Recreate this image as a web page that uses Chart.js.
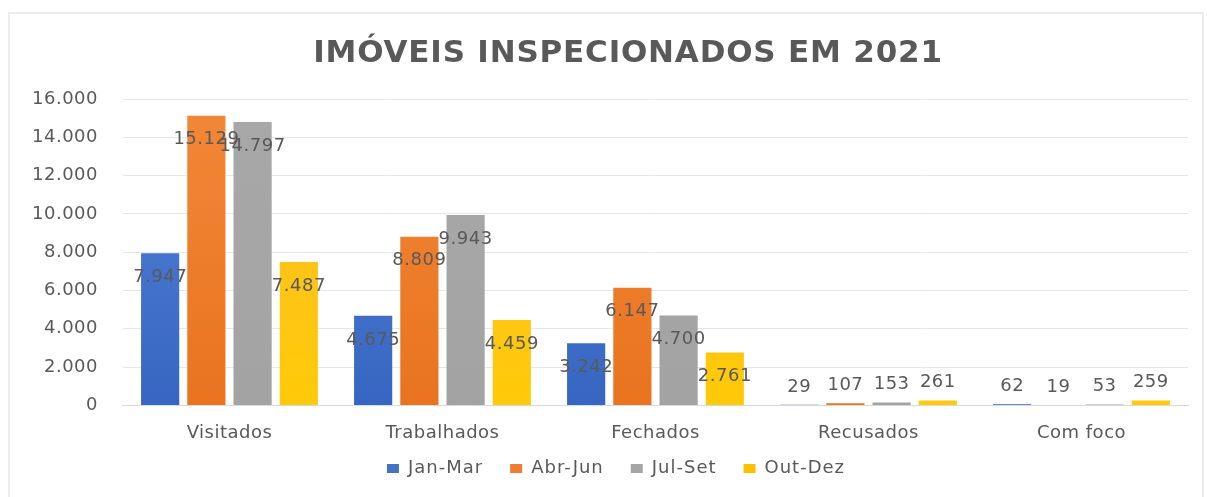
<!DOCTYPE html>
<html lang="pt">
<head>
    <meta charset="UTF-8">
    <title>Imóveis inspecionados em 2021</title>
    <style>
        html, body {
            margin: 0;
            padding: 0;
            background: #ffffff;
        }
        #wrap {
            position: relative;
            width: 1207px;
            height: 497px;
            overflow: hidden;
        }
        #frame {
            position: absolute;
            left: 8px;
            top: 12px;
            width: 1196px;
            height: 500px;
            border: 2px solid #ececec;
            box-sizing: border-box;
        }
        #grafico {
            position: absolute;
            left: 0;
            top: 0;
        }
    </style>
</head>
<body>
    <div id="wrap">
        <div id="frame"></div>
        <canvas id="grafico" width="1207" height="497"></canvas>
    </div>

    <script src="https://cdn.jsdelivr.net/npm/chart.js"></script>
    <script>
        // dados
        const categorias = ['Visitados', 'Trabalhados', 'Fechados', 'Recusados', 'Com foco'];
        const trimestres = ['Jan-Mar', 'Abr-Jun', 'Jul-Set', 'Out-Dez'];
        const janMar = [7947, 4675, 3242, 29, 62];
        const abrJun = [15129, 8809, 6147, 107, 19];
        const julSet = [14797, 9943, 4700, 153, 53];
        const outDez = [7487, 4459, 2761, 261, 259];
        const ticksY = [0, 2000, 4000, 6000, 8000, 10000, 12000, 14000, 16000];

        const cores = ['#4472C4', '#ED7D31', '#A5A5A5', '#FFC000'];
        const coresTopo = ['#5283d6', '#f28838', '#a8a8a8', '#fbbd2a'];
        const coresBase = ['#3766c2', '#e9731f', '#a3a3a3', '#ffca08'];
        const cinzaTexto = '#595959';
        const fonte = '"DejaVu Sans", sans-serif';

        function formatar(n) {
            return String(n).replace(/\B(?=(\d{3})+(?!\d))/g, '.');
        }

        function degrade(i) {
            return function (c) {
                const area = c.chart.chartArea;
                if (!area) return cores[i];
                const g = c.chart.ctx.createLinearGradient(0, area.top, 0, area.bottom);
                g.addColorStop(0, coresTopo[i]);
                g.addColorStop(1, coresBase[i]);
                return g;
            };
        }

        // letras um pouco mais afastadas, como no original
        const espaco = {
            id: 'espaco',
            beforeLayout(chart) { chart.ctx.letterSpacing = '0.5px'; },
            beforeDraw(chart) { chart.ctx.letterSpacing = '0.5px'; }
        };

        // título, rótulos dos valores e legenda
        const textos = {
            id: 'textos',
            afterDatasetsDraw(chart) {
                const ctx = chart.ctx;
                ctx.save();
                ctx.font = '18px ' + fonte;
                ctx.fillStyle = cinzaTexto;
                ctx.textAlign = 'center';
                ctx.textBaseline = 'middle';
                chart.data.datasets.forEach((ds, i) => {
                    const meta = chart.getDatasetMeta(i);
                    meta.data.forEach((bar, j) => {
                        const v = ds.data[j];
                        // dentro da barra quando cabe, acima quando não
                        const y = v >= 1000 ? bar.y + 24 : bar.y - 18;
                        ctx.fillText(formatar(v), bar.x, y);
                    });
                });
                ctx.restore();
            },
            afterDraw(chart) {
                const ctx = chart.ctx;
                ctx.save();
                ctx.fillStyle = cinzaTexto;
                ctx.textBaseline = 'middle';
                ctx.textAlign = 'center';
                ctx.letterSpacing = '0.8px';
                ctx.font = 'bold 31px ' + fonte;
                ctx.fillText('IMÓVEIS INSPECIONADOS EM 2021', 628, 54);

                ctx.letterSpacing = '1px';
                ctx.font = '18px ' + fonte;
                ctx.textAlign = 'left';
                const caixa = 12, folga = 9, entre = 27, yLeg = 468;
                const itens = trimestres.map((t, i) => ({
                    texto: t,
                    cor: cores[i],
                    largura: caixa + folga + ctx.measureText(t).width
                }));
                const total = itens.reduce((s, it) => s + it.largura, 0) + entre * (itens.length - 1);
                let x = 616 - total / 2;
                itens.forEach(it => {
                    ctx.fillStyle = it.cor;
                    ctx.fillRect(x, yLeg - 4, caixa, 9);
                    ctx.fillStyle = cinzaTexto;
                    ctx.fillText(it.texto, x + caixa + folga, yLeg);
                    x += it.largura + entre;
                });
                ctx.restore();
            }
        };

        const ctx = document.getElementById('grafico').getContext('2d');
        new Chart(ctx, {
            type: 'bar',
            data: {
                labels: categorias,
                datasets: [
                    { label: trimestres[0], data: janMar, backgroundColor: degrade(0) },
                    { label: trimestres[1], data: abrJun, backgroundColor: degrade(1) },
                    { label: trimestres[2], data: julSet, backgroundColor: degrade(2) },
                    { label: trimestres[3], data: outDez, backgroundColor: degrade(3) }
                ]
            },
            options: {
                responsive: false,
                animation: false,
                categoryPercentage: 0.868,
                barPercentage: 0.826,
                layout: {
                    padding: { left: 7, right: 19, top: 99, bottom: 44 }
                },
                scales: {
                    x: {
                        grid: { display: false },
                        border: { color: '#d9d9d9' },
                        ticks: {
                            color: cinzaTexto,
                            font: { family: fonte, size: 18 },
                            padding: 9
                        }
                    },
                    y: {
                        min: 0,
                        max: 16000,
                        afterBuildTicks(axis) {
                            axis.ticks = ticksY.map(v => ({ value: v }));
                        },
                        grid: { color: '#e6e6e6', drawTicks: false },
                        border: { display: false },
                        ticks: {
                            color: cinzaTexto,
                            font: { family: fonte, size: 18 },
                            padding: 25,
                            callback: v => formatar(v)
                        }
                    }
                },
                plugins: {
                    title: { display: false },
                    legend: { display: false },
                    tooltip: { enabled: false }
                }
            },
            plugins: [espaco, textos]
        });
    </script>
</body>
</html>
